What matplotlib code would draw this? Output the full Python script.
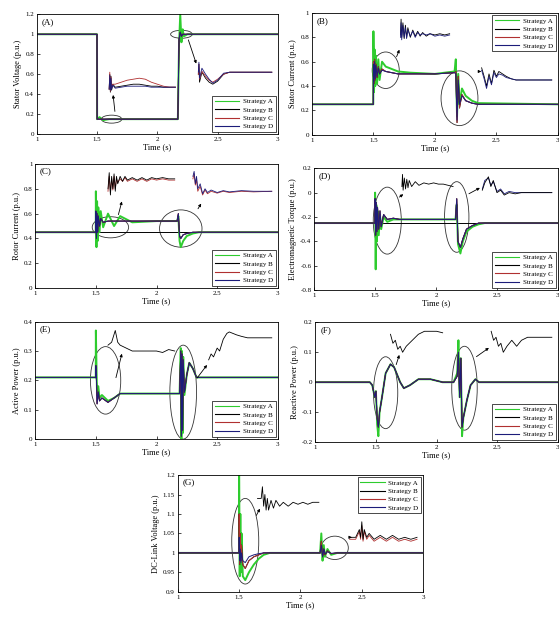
import matplotlib
matplotlib.use("Agg")
import matplotlib.pyplot as plt
from matplotlib.patches import Ellipse

plt.rcParams['font.family'] = ['Liberation Serif', 'DejaVu Serif']
plt.rcParams['font.size'] = 5.5

strategies = ["Strategy A", "Strategy B", "Strategy C", "Strategy D"]
colors = ["#2ecc2e", "black", "#b03030", "#1c1c7a"]
x_ticks = [1, 1.5, 2, 2.5, 3]

# ---- (A) stator voltage ----
tA = [1, 1.499, 1.5, 1.52, 1.55, 1.6, 1.8, 2.0, 2.17, 2.18, 2.19, 2.2, 2.21, 2.22, 2.25, 3]
vA_a = [1, 1, 0.15, 0.17, 0.14, 0.15, 0.15, 0.15, 0.15, 0.9, 1.2, 0.92, 1.05, 0.98, 1.0, 1.0]
vA_b = [1, 1, 0.15, 0.15, 0.15, 0.15, 0.15, 0.15, 0.15, 0.95, 1.02, 0.98, 1.0, 1.0, 1.0, 1.0]
tA_in1 = [1.60, 1.605, 1.61, 1.615, 1.62, 1.63, 1.65, 1.7, 1.75, 1.8, 1.85, 1.9, 1.95, 2.0, 2.05, 2.1, 2.15]
vA_in1_b = [0.45, 0.6, 0.42, 0.58, 0.44, 0.5, 0.47, 0.48, 0.49, 0.5, 0.5, 0.49, 0.48, 0.48, 0.47, 0.47, 0.47]
vA_in1_c = [0.45, 0.62, 0.43, 0.57, 0.46, 0.5, 0.5, 0.52, 0.54, 0.55, 0.56, 0.55, 0.52, 0.5, 0.48, 0.47, 0.47]
vA_in1_d = [0.45, 0.59, 0.44, 0.56, 0.45, 0.49, 0.46, 0.47, 0.48, 0.48, 0.48, 0.48, 0.47, 0.47, 0.47, 0.47, 0.47]
tA_in2 = [2.34, 2.345, 2.35, 2.37, 2.4, 2.43, 2.46, 2.5, 2.55, 2.6, 2.7, 2.8, 2.95]
vA_in2_b = [0.6, 0.7, 0.52, 0.62, 0.56, 0.52, 0.5, 0.53, 0.6, 0.62, 0.62, 0.62, 0.62]
vA_in2_c = [0.6, 0.7, 0.55, 0.63, 0.58, 0.54, 0.52, 0.55, 0.6, 0.62, 0.62, 0.62, 0.62]
vA_in2_d = [0.62, 0.72, 0.56, 0.66, 0.6, 0.55, 0.51, 0.54, 0.61, 0.62, 0.62, 0.62, 0.62]

# ---- (B) stator current ----
tB = [1, 1.499, 1.5, 1.505, 1.51, 1.515, 1.52, 1.53, 1.54, 1.55, 1.57, 1.6, 1.65, 1.7, 1.8, 2.0,
      2.16, 2.17, 2.18, 2.19, 2.2, 2.22, 2.25, 2.3, 2.35, 3]
iB_a = [0.25, 0.25, 0.85, 0.35, 0.7, 0.4, 0.65, 0.42, 0.62, 0.45, 0.6, 0.56, 0.54, 0.52, 0.51, 0.5,
        0.52, 0.62, 0.15, 0.5, 0.25, 0.38, 0.32, 0.28, 0.26, 0.25]
iB_b = [0.25, 0.25, 0.6, 0.42, 0.62, 0.45, 0.58, 0.47, 0.56, 0.5, 0.54, 0.52, 0.51, 0.5, 0.5, 0.5,
        0.51, 0.52, 0.1, 0.48, 0.22, 0.33, 0.28, 0.26, 0.25, 0.25]
iB_d = [0.25, 0.25, 0.58, 0.44, 0.6, 0.46, 0.57, 0.48, 0.55, 0.5, 0.53, 0.52, 0.51, 0.5, 0.5, 0.5,
        0.51, 0.5, 0.12, 0.45, 0.25, 0.32, 0.28, 0.26, 0.25, 0.25]
tB_in1 = [1.72, 1.725, 1.73, 1.74, 1.75, 1.76, 1.77, 1.78, 1.8, 1.82, 1.84, 1.86, 1.88, 1.9, 1.93,
          1.96, 2.0, 2.04, 2.08, 2.12]
iB_in1_b = [0.82, 0.95, 0.8, 0.92, 0.79, 0.9, 0.8, 0.88, 0.8, 0.86, 0.81, 0.85, 0.81, 0.84, 0.81,
            0.83, 0.82, 0.83, 0.82, 0.83]
iB_in1_d = [0.8, 0.92, 0.78, 0.9, 0.8, 0.88, 0.79, 0.86, 0.81, 0.85, 0.8, 0.84, 0.82, 0.83, 0.82,
            0.83, 0.81, 0.82, 0.81, 0.82]
tB_in2 = [2.38, 2.4, 2.42, 2.44, 2.46, 2.48, 2.5, 2.52, 2.55, 2.58, 2.62, 2.66, 2.7, 2.8, 2.95]
iB_in2_b = [0.55, 0.48, 0.4, 0.5, 0.42, 0.53, 0.48, 0.52, 0.5, 0.48, 0.46, 0.45, 0.45, 0.45, 0.45]
iB_in2_d = [0.53, 0.46, 0.38, 0.48, 0.41, 0.51, 0.47, 0.5, 0.49, 0.47, 0.46, 0.45, 0.45, 0.45, 0.45]

# ---- (C) rotor current ----
tC = [1, 1.499, 1.5, 1.505, 1.51, 1.515, 1.52, 1.53, 1.54, 1.56, 1.6, 1.65, 1.7, 1.8, 2.0, 2.17,
      2.18, 2.19, 2.2, 2.22, 2.25, 2.3, 2.35, 3]
iC_a = [0.45, 0.45, 0.78, 0.33, 0.7, 0.38, 0.65, 0.45, 0.62, 0.49, 0.6, 0.5, 0.58, 0.53, 0.54,
        0.54, 0.58, 0.38, 0.33, 0.38, 0.42, 0.44, 0.45, 0.45]
iC_b = [0.45, 0.45, 0.62, 0.4, 0.6, 0.45, 0.58, 0.5, 0.56, 0.53, 0.54, 0.54, 0.54, 0.54, 0.54,
        0.54, 0.6, 0.42, 0.4, 0.43, 0.44, 0.45, 0.45, 0.45]
iC_base = [0.45, 0.45]
tC_in1 = [1.6, 1.61, 1.62, 1.63, 1.64, 1.65, 1.66, 1.67, 1.68, 1.7, 1.72, 1.74, 1.76, 1.8, 1.84,
          1.88, 1.92, 1.96, 2.0, 2.05, 2.1, 2.15]
iC_in1_b = [0.8, 0.93, 0.75, 0.9, 0.8, 0.92, 0.78, 0.9, 0.84, 0.9, 0.86, 0.9, 0.87, 0.89, 0.87,
            0.89, 0.87, 0.89, 0.88, 0.89, 0.88, 0.88]
iC_in1_c = [0.78, 0.9, 0.77, 0.88, 0.79, 0.9, 0.8, 0.88, 0.85, 0.88, 0.86, 0.89, 0.86, 0.88, 0.86,
            0.88, 0.86, 0.88, 0.87, 0.88, 0.87, 0.87]
tC_in2 = [2.3, 2.31, 2.32, 2.33, 2.34, 2.36, 2.38, 2.4, 2.42, 2.45, 2.5, 2.55, 2.6, 2.7, 2.8, 2.95]
iC_in2_d = [0.9, 0.94, 0.84, 0.9, 0.8, 0.84, 0.76, 0.8, 0.77, 0.79, 0.77, 0.785, 0.775, 0.785,
            0.78, 0.78]
iC_in2_c = [0.88, 0.92, 0.83, 0.87, 0.78, 0.82, 0.75, 0.79, 0.76, 0.78, 0.765, 0.78, 0.77, 0.78,
            0.775, 0.78]

# ---- (D) electromagnetic torque ----
tD = [1, 1.499, 1.5, 1.505, 1.51, 1.515, 1.52, 1.53, 1.54, 1.55, 1.57, 1.6, 1.65, 1.7, 1.8, 2.0,
      2.16, 2.17, 2.18, 2.2, 2.22, 2.25, 2.3, 2.35, 2.4, 3]
tqD_a = [-0.25, -0.25, 0.0, -0.63, -0.1, -0.4, -0.15, -0.35, -0.18, -0.3, -0.2, -0.24, -0.22,
         -0.22, -0.22, -0.22, -0.22, -0.1, -0.42, -0.5, -0.4, -0.32, -0.28, -0.26, -0.25, -0.25]
tqD_b = [-0.25, -0.25, -0.05, -0.35, -0.08, -0.32, -0.12, -0.3, -0.15, -0.28, -0.18, -0.22, -0.21,
         -0.22, -0.22, -0.22, -0.22, -0.05, -0.4, -0.45, -0.38, -0.3, -0.27, -0.25, -0.25, -0.25]
tqD_base = [-0.25, -0.25]
tD_in1 = [1.72, 1.725, 1.73, 1.74, 1.75, 1.76, 1.77, 1.78, 1.8, 1.83, 1.86, 1.9, 1.94, 1.98, 2.02,
          2.06, 2.1, 2.14]
tqD_in1_b = [0.05, 0.15, 0.02, 0.12, 0.03, 0.11, 0.04, 0.1, 0.05, 0.09, 0.06, 0.08, 0.07, 0.08,
             0.07, 0.07, 0.06, 0.05]
tD_in2 = [2.38, 2.4, 2.43, 2.45, 2.47, 2.5, 2.53, 2.56, 2.6, 2.65, 2.7, 2.8, 2.9, 2.95]
tqD_in2_b = [0.02, 0.08, 0.13, 0.05, 0.1, 0.0, 0.02, -0.02, 0.0, -0.01, 0.0, 0.0, 0.0, 0.0]
tqD_in2_d = [0.03, 0.1, 0.12, 0.06, 0.09, 0.01, 0.03, -0.01, 0.01, 0.0, 0.0, 0.0, 0.0, 0.0]

# ---- (E) active power ----
tE = [1, 1.499, 1.5, 1.505, 1.51, 1.52, 1.53, 1.55, 1.6, 1.65, 1.7, 1.8, 2.0, 2.19, 2.2, 2.205,
      2.21, 2.215, 2.22, 2.23, 2.25, 2.27, 2.3, 2.33, 2.35, 3]
pE_a = [0.21, 0.21, 0.37, 0.25, 0.15, 0.18, 0.14, 0.15, 0.13, 0.14, 0.155, 0.155, 0.155, 0.155,
        0.31, 0.0, 0.3, 0.02, 0.28, 0.15, 0.22, 0.26, 0.24, 0.21, 0.21, 0.21]
pE_b = [0.21, 0.21, 0.25, 0.2, 0.12, 0.16, 0.13, 0.14, 0.125, 0.14, 0.155, 0.155, 0.155, 0.155,
        0.3, 0.01, 0.29, 0.03, 0.27, 0.16, 0.22, 0.26, 0.24, 0.21, 0.21, 0.21]
tE_in1 = [1.6, 1.63, 1.66, 1.68, 1.7, 1.75, 1.8, 1.9, 2.0, 2.05, 2.1, 2.15]
pE_in1_b = [0.32, 0.33, 0.37, 0.33, 0.32, 0.31, 0.3, 0.3, 0.3, 0.295, 0.305, 0.3]
tE_in2 = [2.43, 2.45, 2.47, 2.5, 2.52, 2.55, 2.58, 2.6, 2.63, 2.66, 2.7, 2.75, 2.8, 2.9, 2.95]
pE_in2_b = [0.27, 0.29, 0.28, 0.31, 0.3, 0.34, 0.36, 0.365, 0.36, 0.355, 0.35, 0.345, 0.345,
            0.345, 0.345]

# ---- (F) reactive power ----
tF = [1, 1.45, 1.47, 1.49, 1.5, 1.51, 1.52, 1.53, 1.55, 1.58, 1.62, 1.65, 1.7, 1.73, 1.78, 1.85,
      1.95, 2.05, 2.14, 2.17, 2.18, 2.19, 2.2, 2.21, 2.22, 2.25, 2.28, 2.32, 2.35, 3]
qF_a = [0, 0, -0.01, -0.05, -0.03, -0.14, -0.18, -0.1, -0.05, 0.03, 0.06, 0.05, 0.0, -0.02, -0.01,
        0.01, 0.01, 0.0, 0.0, 0.03, 0.14, -0.05, 0.08, -0.18, -0.12, -0.06, -0.01, 0.01, 0.0, 0.0]
qF_b = [0, 0, -0.01, -0.05, -0.03, -0.12, -0.15, -0.1, -0.05, 0.03, 0.06, 0.05, 0.0, -0.02, -0.01,
        0.01, 0.01, 0.0, 0.0, 0.02, 0.1, -0.05, 0.08, -0.15, -0.12, -0.06, -0.01, 0.01, 0.0, 0.0]
tF_in1 = [1.62, 1.64, 1.66, 1.68, 1.7, 1.72, 1.75, 1.8, 1.85, 1.9, 1.95, 2.0, 2.05]
qF_in1_b = [0.16, 0.13, 0.14, 0.11, 0.12, 0.1, 0.12, 0.14, 0.16, 0.17, 0.17, 0.17, 0.165]
tF_in2 = [2.45, 2.47, 2.49, 2.51, 2.53, 2.55, 2.58, 2.62, 2.66, 2.7, 2.75, 2.8, 2.9, 2.95]
qF_in2_b = [0.17, 0.14, 0.15, 0.12, 0.13, 0.1, 0.12, 0.14, 0.12, 0.14, 0.15, 0.15, 0.15, 0.15]

# ---- (G) DC-link voltage ----
tG = [1, 1.499, 1.5, 1.505, 1.51, 1.515, 1.52, 1.53, 1.55, 1.58, 1.62, 1.66, 1.7, 1.75, 2.0,
      2.16, 2.17, 2.18, 2.19, 2.2, 2.22, 2.25, 2.3, 3]
vG_a = [1, 1, 1.2, 0.94, 1.1, 0.95, 1.05, 0.94, 0.93, 0.95, 0.97, 0.985, 0.995, 1.0, 1.0,
        1.0, 1.05, 0.98, 1.02, 0.99, 1.01, 0.995, 1.0, 1.0]
vG_b = [1, 1, 1.1, 0.97, 1.05, 0.98, 1.02, 0.97, 0.96, 0.98, 0.99, 0.995, 1.0, 1.0, 1.0,
        1.0, 1.03, 0.99, 1.01, 0.995, 1.005, 0.998, 1.0, 1.0]
vG_d = [1, 1, 1.04, 0.98, 1.01, 0.975, 1.0, 0.98, 0.975, 0.99, 0.995, 0.998, 1.0, 1.0, 1.0,
        1.0, 1.02, 0.99, 1.01, 0.997, 1.003, 0.999, 1.0, 1.0]
tG_in1 = [1.65, 1.68, 1.69, 1.7, 1.71, 1.72, 1.73, 1.74, 1.76, 1.78, 1.8, 1.83, 1.86, 1.9, 1.94,
          1.98, 2.02, 2.06, 2.1, 2.15]
vG_in1_b = [1.14, 1.14, 1.17, 1.12, 1.15, 1.11, 1.14, 1.11, 1.135, 1.115, 1.135, 1.12, 1.13, 1.12,
            1.13, 1.125, 1.13, 1.125, 1.13, 1.13]
tG_in2 = [2.4, 2.45, 2.48, 2.49, 2.5, 2.51, 2.52, 2.54, 2.56, 2.6, 2.65, 2.7, 2.75, 2.8, 2.85,
          2.9, 2.95]
vG_in2_b = [1.04, 1.04, 1.06, 1.04, 1.08, 1.035, 1.06, 1.04, 1.05, 1.035, 1.045, 1.035, 1.045,
            1.035, 1.04, 1.035, 1.04]
vG_in2_c = [1.035, 1.035, 1.055, 1.035, 1.07, 1.03, 1.055, 1.035, 1.045, 1.03, 1.04, 1.03, 1.04,
            1.03, 1.035, 1.03, 1.035]

# annotation shapes: (x centre, y centre, width, height)
ellipses = {
    "A": [(1.62, 0.15, 0.17, 0.08), (2.2, 1.0, 0.18, 0.08)],
    "B": [(1.6, 0.53, 0.22, 0.3), (2.2, 0.3, 0.3, 0.45)],
    "C": [(1.62, 0.49, 0.3, 0.17), (2.2, 0.48, 0.35, 0.3)],
    "D": [(1.6, -0.23, 0.23, 0.55), (2.17, -0.2, 0.2, 0.58)],
    "E": [(1.58, 0.2, 0.25, 0.23), (2.22, 0.16, 0.22, 0.32)],
    "F": [(1.58, -0.035, 0.2, 0.24), (2.23, -0.02, 0.21, 0.28)],
    "G": [(1.55, 1.03, 0.22, 0.22), (2.28, 1.013, 0.22, 0.06)],
}
arrows = {
    "A": [((1.65, 0.2), (1.63, 0.42)), ((2.25, 0.97), (2.33, 0.68))],
    "B": [((1.68, 0.62), (1.72, 0.72)), ((2.33, 0.52), (2.4, 0.52))],
    "C": [((1.68, 0.57), (1.72, 0.72)), ((2.33, 0.62), (2.38, 0.7))],
    "D": [((1.68, -0.05), (1.75, 0.0)), ((2.25, -0.02), (2.38, 0.05))],
    "E": [((1.66, 0.2), (1.72, 0.3)), ((2.32, 0.2), (2.43, 0.26))],
    "F": [((1.66, 0.05), (1.7, 0.1)), ((2.31, 0.08), (2.45, 0.12))],
    "G": [((1.63, 1.09), (1.68, 1.12)), ((2.38, 1.04), (2.42, 1.04))],
}

panels = [
    ("A", "Stator Voltage (p.u.)", (0, 1.2), [0, 0.2, 0.4, 0.6, 0.8, 1, 1.2],
     ["0", "0.2", "0.4", "0.6", "0.8", "1", "1.2"], "lower right",
     [(tA, vA_a, 0), (tA, vA_b, 1), (tA, vA_b, 2), (tA, vA_b, 3)],
     [(tA_in1, vA_in1_b, 1), (tA_in1, vA_in1_c, 2), (tA_in1, vA_in1_d, 3),
      (tA_in2, vA_in2_b, 1), (tA_in2, vA_in2_c, 2), (tA_in2, vA_in2_d, 3)],
     [0.066, 0.784, 0.431, 0.193]),
    ("B", "Stator Current (p.u.)", (0, 1), [0, 0.2, 0.4, 0.6, 0.8, 1],
     ["0", "0.2", "0.4", "0.6", "0.8", "1"], "upper right",
     [(tB, iB_a, 0), (tB, iB_b, 1), (tB, iB_b, 2), (tB, iB_d, 3)],
     [(tB_in1, iB_in1_b, 1), (tB_in1, iB_in1_d, 3), (tB_in2, iB_in2_b, 1), (tB_in2, iB_in2_d, 3)],
     [0.558, 0.783, 0.44, 0.196]),
    ("C", "Rotor Current (p.u.)", (0, 1), [0, 0.2, 0.4, 0.6, 0.8, 1],
     ["0", "0.2", "0.4", "0.6", "0.8", "1"], "lower right",
     [([1, 3], iC_base, 1), (tC, iC_a, 0), (tC, iC_b, 1), (tC, iC_b, 2), (tC, iC_b, 3)],
     [(tC_in1, iC_in1_c, 2), (tC_in1, iC_in1_b, 1), (tC_in2, iC_in2_c, 2), (tC_in2, iC_in2_d, 3)],
     [0.063, 0.536, 0.434, 0.2]),
    ("D", "Electromagnetic Torque (p.u.)", (-0.8, 0.2), [-0.8, -0.6, -0.4, -0.2, 0, 0.2],
     ["-0.8", "-0.6", "-0.4", "-0.2", "0", "0.2"], "lower right",
     [([1, 3], tqD_base, 1), (tD, tqD_a, 0), (tD, tqD_b, 1), (tD, tqD_b, 2), (tD, tqD_b, 3)],
     [(tD_in1, tqD_in1_b, 1), (tD_in2, tqD_in2_d, 3), (tD_in2, tqD_in2_b, 1)],
     [0.562, 0.533, 0.436, 0.196]),
    ("E", "Active Power (p.u.)", (0, 0.4), [0, 0.1, 0.2, 0.3, 0.4],
     ["0", "0.1", "0.2", "0.3", "0.4"], "lower right",
     [(tE, pE_a, 0), (tE, pE_b, 1), (tE, pE_b, 2), (tE, pE_b, 3)],
     [(tE_in1, pE_in1_b, 1), (tE_in2, pE_in2_b, 1)],
     [0.063, 0.293, 0.434, 0.189]),
    ("F", "Reactive Power (p.u.)", (-0.2, 0.2), [-0.2, -0.1, 0, 0.1, 0.2],
     ["-0.2", "-0.1", "0", "0.1", "0.2"], "lower right",
     [(tF, qF_a, 0), (tF, qF_b, 1), (tF, qF_b, 2), (tF, qF_b, 3)],
     [(tF_in1, qF_in1_b, 1), (tF_in2, qF_in2_b, 1)],
     [0.564, 0.288, 0.434, 0.193]),
    ("G", "DC-Link Voltage (p.u.)", (0.9, 1.2), [0.9, 0.95, 1, 1.05, 1.1, 1.15, 1.2],
     ["0.9", "0.95", "1", "1.05", "1.1", "1.15", "1.2"], "upper right",
     [(tG, vG_a, 0), (tG, vG_b, 1), (tG, vG_b, 2), (tG, vG_d, 3)],
     [(tG_in1, vG_in1_b, 1), (tG_in2, vG_in2_c, 2), (tG_in2, vG_in2_b, 1)],
     [0.318, 0.047, 0.439, 0.188]),
]

fig = plt.figure(figsize=(5.59, 6.21), dpi=100)

for key, ylabel, ylim, yt, ytl, legloc, mains, insets, rect in panels:
    ax = fig.add_axes(rect)
    for t, y, k in mains:
        ax.plot(t, y, color=colors[k], lw=1.4 if k == 0 else 0.7)
    for t, y, k in insets:
        ax.plot(t, y, color=colors[k], lw=0.6)
    for cx, cy, w, h in ellipses[key]:
        ax.add_patch(Ellipse((cx, cy), w, h, fill=False, ec="#333333", lw=0.6))
    for (x0, y0), (x1, y1) in arrows[key]:
        ax.annotate("", xy=(x1, y1), xytext=(x0, y0),
                    arrowprops=dict(arrowstyle="-|>", color="black", lw=0.6,
                                    mutation_scale=4))
    ax.set_xlim(1, 3)
    ax.set_ylim(*ylim)
    ax.set_xticks(x_ticks)
    ax.set_xticklabels(["1", "1.5", "2", "2.5", "3"])
    ax.set_yticks(yt)
    ax.set_yticklabels(ytl)
    ax.tick_params(direction="in", length=2, width=0.5, labelsize=5, pad=2)
    for s in ax.spines.values():
        s.set_linewidth(0.6)
    ax.set_xlabel("Time (s)", fontsize=6, labelpad=1)
    ax.set_ylabel(ylabel, fontsize=6, labelpad=2)
    ax.text(0.02, 0.97, "(" + key + ")", transform=ax.transAxes, ha="left", va="top", fontsize=6.5)
    handles = [plt.Line2D([], [], color=c, lw=0.8) for c in colors]
    leg = ax.legend(handles, strategies, loc=legloc, fontsize=5, handlelength=3.5,
                    borderpad=0.4, labelspacing=0.35, handletextpad=0.5, fancybox=False,
                    edgecolor="black", framealpha=1, borderaxespad=0.3)
    leg.get_frame().set_linewidth(0.5)

fig.savefig("out.png", dpi=100)
